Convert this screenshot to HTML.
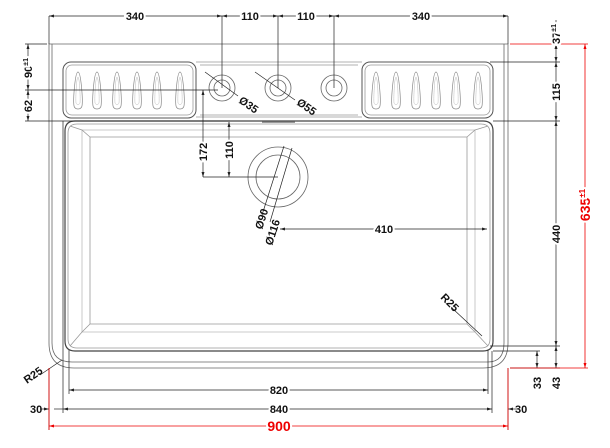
<!DOCTYPE html>
<html><head><meta charset="utf-8"><style>
html,body{margin:0;padding:0;background:#fff;}
svg{display:block;}
text{font-family:"Liberation Sans",Arial,sans-serif;font-weight:bold;font-size:11px;fill:#111;}
.r{fill:#e00;}
</style></head><body>
<svg width="610" height="448" viewBox="0 0 610 448" xmlns="http://www.w3.org/2000/svg">
<defs>
<marker id="a" markerWidth="6" markerHeight="6" refX="5" refY="3" orient="auto-start-reverse" markerUnits="userSpaceOnUse"><path d="M0,1.5 L5,3 L0,4.5z" fill="#222"/></marker>
<marker id="ar" markerWidth="6" markerHeight="6" refX="5" refY="3" orient="auto-start-reverse" markerUnits="userSpaceOnUse"><path d="M0,1.5 L5,3 L0,4.5z" fill="#e00"/></marker>
<g id="fl"><path d="M0,-18 C3,-18 5,10 4,16 C3,20 -3,20 -4,16 C-5,10 -3,-18 0,-18z" fill="none" stroke="#888" stroke-width="0.7"/><path d="M0,-13 C1.5,-13 2.5,8 2,13 C1,15 -1,15 -2,13 C-2.5,8 -1.5,-13 0,-13z" fill="none" stroke="#bbb" stroke-width="0.5"/></g>
</defs>
<g fill="none" stroke="#666" stroke-width="0.8">
<path d="M49,44 H508 V343 Q508,368 483,368 H74 Q49,368 49,343 Z"/>
<path d="M52,44 V343 Q52,362 72,362 H488 Q504,362 504,343 V44"/>
<rect x="63" y="62" width="133" height="56" rx="8" stroke="#555" stroke-width="1"/>
<rect x="66" y="65" width="127" height="50" rx="6" stroke="#999"/>
<rect x="362" y="62" width="131" height="56" rx="8" stroke="#555" stroke-width="1"/>
<rect x="365" y="65" width="125" height="50" rx="6" stroke="#999"/>
<path d="M196,62 H362 M196,117 H362 M200,65 H358 M200,115 H358" stroke="#999"/>
<line x1="262" y1="122" x2="295" y2="122" stroke="#999" stroke-width="2"/>
<path d="M65,131 Q65,121 75,121 H483 Q493,121 493,131 V341 Q493,351 483,351 H75 Q65,351 65,341 Z" stroke="#444" stroke-width="1.2"/>
<path d="M68,133 Q68,124 77,124 H481 Q490,124 490,133 V339 Q490,348 481,348 H77 Q68,348 68,339 Z" stroke="#999"/>
<path d="M90,137 H467 V324 H90 Z" stroke="#999"/>
<path d="M82,130 H475 V332 H82 Z" stroke="#bbb"/>
<path d="M70,126 L82,130 L90,137 M488,126 L475,130 L467,137 M70,346 L82,332 L90,324 M488,346 L475,332 L467,324" stroke="#999"/>
<circle cx="222" cy="88" r="13"/><circle cx="222" cy="88" r="8"/>
<circle cx="278" cy="88" r="13"/><circle cx="278" cy="88" r="8"/>
<circle cx="334" cy="88" r="13"/><circle cx="334" cy="88" r="8"/>
<circle cx="278" cy="177" r="30"/><circle cx="278" cy="177" r="22"/>
</g>
<g>
<use href="#fl" x="78" y="90"/><use href="#fl" x="97" y="90"/><use href="#fl" x="117" y="90"/><use href="#fl" x="137" y="90"/><use href="#fl" x="157" y="90"/><use href="#fl" x="180" y="90"/>
<use href="#fl" x="376" y="90"/><use href="#fl" x="396" y="90"/><use href="#fl" x="416" y="90"/><use href="#fl" x="436" y="90"/><use href="#fl" x="456" y="90"/><use href="#fl" x="478" y="90"/>
</g>
<g stroke="#222" stroke-width="0.7" fill="none">
<path d="M49,16 V44 M222,16 V88 M278,16 V88 M334,16 V88 M508,16 V44"/>
<line x1="49" y1="16" x2="222" y2="16" marker-start="url(#a)" marker-end="url(#a)"/>
<line x1="222" y1="16" x2="278" y2="16" marker-start="url(#a)" marker-end="url(#a)"/>
<line x1="278" y1="16" x2="334" y2="16" marker-start="url(#a)" marker-end="url(#a)"/>
<line x1="334" y1="16" x2="508" y2="16" marker-start="url(#a)" marker-end="url(#a)"/>
<path d="M25,44 H47 M25,90 H218 M25,121 H230"/>
<line x1="28" y1="44" x2="28" y2="90" marker-start="url(#a)" marker-end="url(#a)"/>
<line x1="28" y1="90" x2="28" y2="121" marker-start="url(#a)" marker-end="url(#a)"/>
<line x1="203" y1="90" x2="203" y2="177" marker-start="url(#a)" marker-end="url(#a)"/>
<line x1="229" y1="122" x2="229" y2="177" marker-start="url(#a)" marker-end="url(#a)"/>
<path d="M203,177 H278"/>
<line x1="280" y1="229" x2="487" y2="229" marker-start="url(#a)" marker-end="url(#a)"/>
<path d="M205,72 L238,96 M255,72 L295,100 M284,146 L262,215 M292,148 L270,222"/>
<path d="M490,62 H560 M493,121 H560 M490,346 H560 M493,351 H540 M510,368 H560"/>
<line x1="556" y1="20" x2="556" y2="44" marker-end="url(#a)"/>
<line x1="556" y1="44" x2="556" y2="62" marker-start="url(#a)" marker-end="url(#a)"/>
<line x1="556" y1="62" x2="556" y2="121" marker-start="url(#a)" marker-end="url(#a)"/>
<line x1="556" y1="121" x2="556" y2="346" marker-start="url(#a)" marker-end="url(#a)"/>
<line x1="556" y1="346" x2="556" y2="368" marker-start="url(#a)" marker-end="url(#a)"/>
<line x1="537" y1="351" x2="537" y2="368" marker-start="url(#a)" marker-end="url(#a)"/>
<path d="M63,121 V413 M69,350 V394 M488,350 V394 M492,351 V413 M49,368 V430 M508,368 V430"/>
<line x1="69" y1="390" x2="488" y2="390" marker-start="url(#a)" marker-end="url(#a)"/>
<line x1="63" y1="409" x2="492" y2="409" marker-start="url(#a)" marker-end="url(#a)"/>
<line x1="40" y1="409" x2="49" y2="409" marker-end="url(#a)"/>
<line x1="63" y1="409" x2="54" y2="409"/>
<line x1="518" y1="409" x2="508" y2="409" marker-end="url(#a)"/>
<path d="M40,375 L62,360"/>
<path d="M452,308 L482,336"/>
</g>
<g stroke="#e00" stroke-width="0.8" fill="none">
<path d="M510,44 H588 M510,368 H588 M49,368 V430 M508,368 V430"/>
<line x1="585" y1="44" x2="585" y2="368" marker-start="url(#ar)" marker-end="url(#ar)"/>
<line x1="49" y1="426" x2="508" y2="426" marker-start="url(#ar)" marker-end="url(#ar)"/>
</g>
<g>
<text x="135" y="20" text-anchor="middle" style="paint-order:stroke" stroke="#fff" stroke-width="4">340</text>
<text x="250" y="20" text-anchor="middle" style="paint-order:stroke" stroke="#fff" stroke-width="4">110</text>
<text x="306" y="20" text-anchor="middle" style="paint-order:stroke" stroke="#fff" stroke-width="4">110</text>
<text x="421" y="20" text-anchor="middle" style="paint-order:stroke" stroke="#fff" stroke-width="4">340</text>
<text transform="translate(32,68) rotate(-90)" text-anchor="middle" style="paint-order:stroke" stroke="#fff" stroke-width="4">90<tspan style="font-size:7px" dy="-4">±1</tspan></text>
<text transform="translate(32,106) rotate(-90)" text-anchor="middle" style="paint-order:stroke" stroke="#fff" stroke-width="4">62</text>
<text transform="translate(207,152) rotate(-90)" text-anchor="middle" style="paint-order:stroke" stroke="#fff" stroke-width="4">172</text>
<text transform="translate(233,150) rotate(-90)" text-anchor="middle" style="paint-order:stroke" stroke="#fff" stroke-width="4">110</text>
<text transform="translate(238,102) rotate(35)">Ø35</text>
<text transform="translate(296,104) rotate(35)">Ø55</text>
<text transform="translate(262,230) rotate(-72)">Ø90</text>
<text transform="translate(272,246) rotate(-72)">Ø116</text>
<text x="384" y="233" text-anchor="middle" style="paint-order:stroke" stroke="#fff" stroke-width="4">410</text>
<text transform="translate(560,34) rotate(-90)" text-anchor="middle" style="paint-order:stroke" stroke="#fff" stroke-width="4">37<tspan style="font-size:7px" dy="-4">±1</tspan></text>
<text transform="translate(560,92) rotate(-90)" text-anchor="middle" style="paint-order:stroke" stroke="#fff" stroke-width="4">115</text>
<text transform="translate(560,234) rotate(-90)" text-anchor="middle" style="paint-order:stroke" stroke="#fff" stroke-width="4">440</text>
<text transform="translate(541,383) rotate(-90)" text-anchor="middle">33</text>
<text transform="translate(560,383) rotate(-90)" text-anchor="middle">43</text>
<text transform="translate(590,205) rotate(-90)" text-anchor="middle" class="r" style="font-size:14px;paint-order:stroke" stroke="#fff" stroke-width="4">635<tspan style="font-size:8px" dy="-5">±1</tspan></text>
<text x="279" y="394" text-anchor="middle" style="paint-order:stroke" stroke="#fff" stroke-width="4">820</text>
<text x="279" y="413" text-anchor="middle" style="paint-order:stroke" stroke="#fff" stroke-width="4">840</text>
<text x="30" y="413">30</text>
<text x="515" y="413">30</text>
<text x="279" y="431" text-anchor="middle" class="r" style="font-size:14px;paint-order:stroke" stroke="#fff" stroke-width="4">900</text>
<text transform="translate(27,384) rotate(-35)">R25</text>
<text transform="translate(440,298) rotate(45)">R25</text>
</g>
</svg>
</body></html>
